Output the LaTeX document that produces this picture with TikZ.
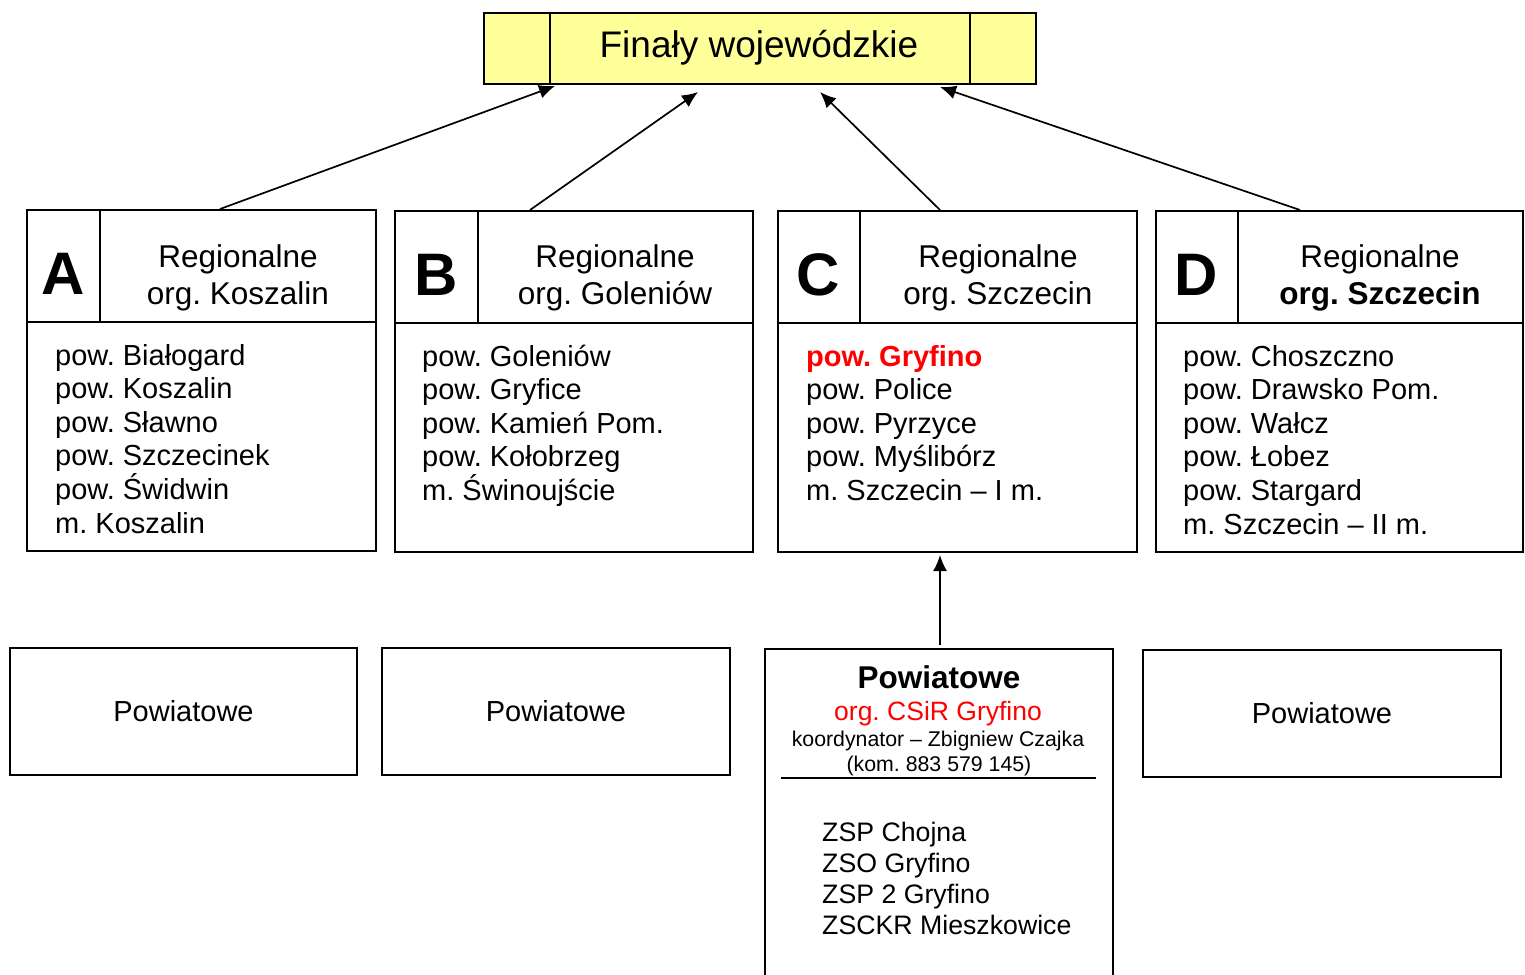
\documentclass[tikz,border=0pt]{standalone}
\usepackage{fontspec}
\setmainfont{Liberation Sans}
\usetikzlibrary{arrows.meta}
\definecolor{titleyellow}{HTML}{FFFF99}
\definecolor{orgred}{HTML}{FF0000}
\frenchspacing
\begin{document}
\begin{tikzpicture}[x=1pt,y=-1pt,
  box/.style={draw, line width=2pt, inner sep=0pt, anchor=north west},
  sep/.style={line width=2pt},
  txt/.style={inner sep=0pt, anchor=base},
  letter/.style={inner sep=0pt, anchor=base, font=\fontsize{60}{60}\selectfont\bfseries},
  hdr/.style={inner sep=0pt, anchor=base, font=\fontsize{31.5}{36}\selectfont},
  item/.style={inner sep=0pt, anchor=base west, font=\fontsize{29}{34}\selectfont},
  pitem/.style={inner sep=0pt, anchor=base west, font=\fontsize{26.7}{31}\selectfont},
  pbox/.style={box, font=\fontsize{29}{34}\selectfont},
  arr/.style={line width=1.7pt, -{Latex[length=16pt,width=14pt]}}]
\useasboundingbox (0,0) rectangle (1525,974);

% Title
\node[box, fill=titleyellow, minimum width=552pt, minimum height=71pt] (T) at (483,12) {};
\draw[sep] ([xshift=67pt]T.north west) -- ([xshift=67pt]T.south west);
\draw[sep] ([xshift=-67pt]T.north east) -- ([xshift=-67pt]T.south east);
\node[txt, font=\fontsize{37}{42}\selectfont] (Tt) at (759,57) {Finały wojewódzkie};

% Region A
\node[box, minimum width=349pt, minimum height=341pt] (A) at (26,209) {};
\draw[sep] ([yshift=-113pt]A.north west) -- ([yshift=-113pt]A.north east);
\draw[sep] ([xshift=74pt]A.north west) -- ([xshift=74pt,yshift=-113pt]A.north west);
\node[letter] (Al) at (63,294) {A};
\node[hdr] (Ah1) at (238,267) {Regionalne};
\node[hdr] (Ah2) at (238,304) {org. Koszalin};
\foreach \t [count=\i from 0] in {pow. Białogard, pow. Koszalin, pow. Sławno, pow. Szczecinek, pow. Świdwin, m. Koszalin}
  \node[item] (A\i) at (55,{365+33.6*\i}) {\t};

% Region B
\node[box, minimum width=358pt, minimum height=341pt] (B) at (394,210) {};
\draw[sep] ([yshift=-113pt]B.north west) -- ([yshift=-113pt]B.north east);
\draw[sep] ([xshift=84pt]B.north west) -- ([xshift=84pt,yshift=-113pt]B.north west);
\node[letter] (Bl) at (436,295) {B};
\node[hdr] (Bh1) at (615,267) {Regionalne};
\node[hdr] (Bh2) at (615,304) {org. Goleniów};
\foreach \t [count=\i from 0] in {pow. Goleniów, pow. Gryfice, pow. Kamień Pom., pow. Kołobrzeg, m. Świnoujście}
  \node[item] (B\i) at (422,{366+33.6*\i}) {\t};

% Region C
\node[box, minimum width=359pt, minimum height=341pt] (C) at (777,210) {};
\draw[sep] ([yshift=-113pt]C.north west) -- ([yshift=-113pt]C.north east);
\draw[sep] ([xshift=83pt]C.north west) -- ([xshift=83pt,yshift=-113pt]C.north west);
\node[letter] (Cl) at (818,295) {C};
\node[hdr] (Ch1) at (998,267) {Regionalne};
\node[hdr] (Ch2) at (998,304) {org. Szczecin};
\foreach \t [count=\i from 0] in {{\textcolor{orgred}{\bfseries pow. Gryfino}}, pow. Police, pow. Pyrzyce, pow. Myślibórz, m. Szczecin – I m.}
  \node[item] (C\i) at (806,{366+33.6*\i}) {\t};

% Region D
\node[box, minimum width=367pt, minimum height=341pt] (D) at (1155,210) {};
\draw[sep] ([yshift=-113pt]D.north west) -- ([yshift=-113pt]D.north east);
\draw[sep] ([xshift=83pt]D.north west) -- ([xshift=83pt,yshift=-113pt]D.north west);
\node[letter] (Dl) at (1196,295) {D};
\node[hdr] (Dh1) at (1380,267) {Regionalne};
\node[hdr] (Dh2) at (1380,304) {\bfseries org. Szczecin};
\foreach \t [count=\i from 0] in {pow. Choszczno, pow. Drawsko Pom., pow. Wałcz, pow. Łobez, pow. Stargard, m. Szczecin – II m.}
  \node[item] (D\i) at (1183,{366+33.6*\i}) {\t};

% Powiatowe boxes
\node[pbox, minimum width=347pt, minimum height=127pt] (Ap) at (9,647) {Powiatowe};
\node[pbox, minimum width=348pt, minimum height=127pt] (Bp) at (381,647) {Powiatowe};
\node[pbox, minimum width=358pt, minimum height=127pt] (Dp) at (1142,649) {Powiatowe};

% Powiatowe C
\node[box, minimum width=348pt, minimum height=345pt] (Cp) at (764,648) {};
\node[txt, font=\fontsize{31.5}{36}\selectfont\bfseries] (Cp1) at (939,688) {Powiatowe};
\node[txt, font=\fontsize{26.5}{30}\selectfont, text=orgred] (Cp2) at (938,720) {org. CSiR Gryfino};
\node[txt, font=\fontsize{21.3}{25}\selectfont] (Cp3) at (938,746) {koordynator – Zbigniew Czajka};
\node[txt, font=\fontsize{21.3}{25}\selectfont] (Cp4) at (939,771) {(kom. 883 579 145)};
\draw[sep] ([xshift=17pt,yshift=-130pt]Cp.north west) -- ([xshift=332pt,yshift=-130pt]Cp.north west);
\foreach \t [count=\i from 0] in {ZSP Chojna, ZSO Gryfino, ZSP 2 Gryfino, ZSCKR Mieszkowice}
  \node[pitem] (P\i) at (822,{841+31*\i}) {\t};

% Arrows
\draw[arr] ([xshift=194pt]A.north west) -- ([xshift=72pt,yshift=-1pt]T.south west);
\draw[arr] ([xshift=136pt]B.north west) -- ([xshift=215pt,yshift=-7pt]T.south west);
\draw[arr] ([xshift=163pt]C.north west) -- ([xshift=337pt,yshift=-7pt]T.south west);
\draw[arr] ([xshift=145pt]D.north west) -- ([xshift=457pt,yshift=-2pt]T.south west);
\draw[arr] ([xshift=176pt,yshift=3pt]Cp.north west) -- ([xshift=163pt,yshift=-2pt]C.south west);
\end{tikzpicture}
\end{document}
